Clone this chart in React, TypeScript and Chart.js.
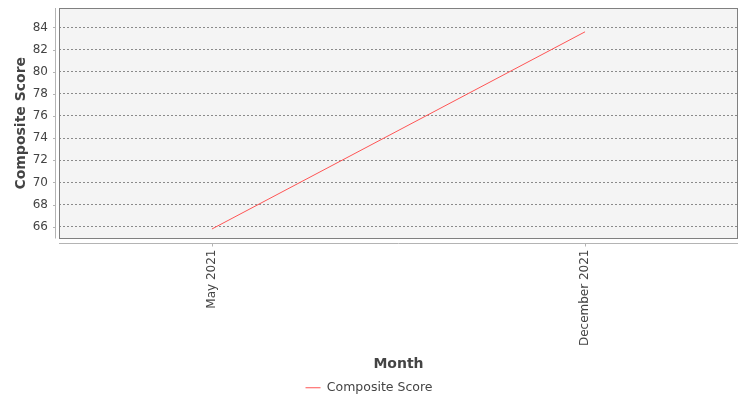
import React, { useEffect, useRef } from "react"
import { Chart, registerables } from "chart.js"

Chart.register(...registerables)

const months = ["May 2021", "December 2021"]
const compositeScores = [65.8, 83.6]
const yTickValues = [66, 68, 70, 72, 74, 76, 78, 80, 82, 84]

const FONT = "'DejaVu Sans', sans-serif"

// plot background, frame and the detached axis lines with their tick marks
const framePlugin = {
    id: "frame",
    beforeDraw(chart: Chart) {
        const { ctx, chartArea: a } = chart
        ctx.save()
        ctx.fillStyle = "#f4f4f4"
        ctx.fillRect(a.left, a.top, a.right - a.left, a.bottom - a.top)
        ctx.restore()
    },
    afterDraw(chart: Chart) {
        const { ctx, chartArea: a } = chart
        const xScale = chart.scales.x
        const yScale = chart.scales.y
        ctx.save()
        ctx.lineWidth = 1
        ctx.strokeStyle = "#808080"
        ctx.strokeRect(Math.round(a.left) + 0.5, Math.round(a.top) + 0.5, Math.round(a.right - a.left) - 1, Math.round(a.bottom - a.top) - 1)

        ctx.strokeStyle = "#b4b4b4"
        const ax = Math.round(a.left) - 3.5
        ctx.beginPath()
        ctx.moveTo(ax, a.top)
        ctx.lineTo(ax, a.bottom)
        yScale.ticks.forEach((t) => {
            const py = Math.round(yScale.getPixelForValue(t.value)) + 0.5
            ctx.moveTo(ax - 2.5, py)
            ctx.lineTo(ax, py)
        })
        const ay = Math.round(a.bottom) + 4.5
        ctx.moveTo(a.left, ay)
        ctx.lineTo(a.right, ay)
        xScale.ticks.forEach((t) => {
            const px = Math.round(xScale.getPixelForValue(t.value)) + 0.5
            ctx.moveTo(px, ay)
            ctx.lineTo(px, ay + 3)
        })
        ctx.stroke()
        ctx.restore()
    },
}

export default function App() {
    const chartRef = useRef<HTMLCanvasElement>(null)
    const chartInstance = useRef<Chart | null>(null)

    useEffect(() => {
        if (!chartRef.current) return
        if (chartInstance.current) chartInstance.current.destroy()
        const ctx = chartRef.current.getContext("2d")
        if (!ctx) return

        chartInstance.current = new Chart(ctx, {
            type: "line",
            data: {
                datasets: [
                    {
                        label: "Composite Score",
                        data: compositeScores.map((v, i) => ({ x: i, y: v })),
                        borderColor: "#ff5555",
                        backgroundColor: "#ff5555",
                        borderWidth: 1,
                        pointRadius: 0,
                        pointStyle: "line",
                        tension: 0,
                    },
                ],
            },
            options: {
                animation: false,
                responsive: true,
                maintainAspectRatio: false,
                layout: { padding: { top: 8, right: 12, bottom: -4, left: 0 } },
                scales: {
                    x: {
                        type: "linear",
                        min: -0.41,
                        max: 1.41,
                        afterBuildTicks: (scale: any) => {
                            scale.ticks = months.map((_, i) => ({ value: i }))
                        },
                        afterFit: (scale: any) => {
                            scale.height = 137
                            scale.paddingLeft = 0
                            scale.paddingRight = 0
                        },
                        grid: { display: false, drawTicks: false },
                        border: { display: false },
                        ticks: {
                            autoSkip: false,
                            minRotation: 90,
                            maxRotation: 90,
                            padding: 11,
                            color: "#444",
                            font: { family: FONT, size: 12 },
                            callback: (value: any) => months[value as number] ?? "",
                        },
                        title: {
                            display: true,
                            text: "Month",
                            color: "#444",
                            font: { family: FONT, size: 14, weight: "bold" },
                            padding: { top: 0, bottom: 3 },
                        },
                    },
                    y: {
                        min: 64.94,
                        max: 85.75,
                        afterBuildTicks: (scale: any) => {
                            scale.ticks = yTickValues.map((v) => ({ value: v }))
                        },
                        afterFit: (scale: any) => {
                            scale.width = 59
                            scale.paddingTop = 0
                            scale.paddingBottom = 0
                        },
                        grid: { color: "#8a8a8a", lineWidth: 1, drawTicks: false },
                        border: { display: false, dash: [2, 2] },
                        ticks: {
                            padding: 11,
                            color: "#444",
                            font: { family: FONT, size: 12 },
                        },
                        title: {
                            display: true,
                            text: "Composite Score",
                            color: "#444",
                            font: { family: FONT, size: 14, weight: "bold" },
                            padding: { top: 13, bottom: 0 },
                        },
                    },
                },
                plugins: {
                    legend: {
                        position: "bottom",
                        labels: {
                            usePointStyle: true,
                            pointStyle: "line",
                            pointStyleWidth: 15,
                            padding: 6,
                            color: "#444",
                            font: { family: FONT, size: 12.5 },
                        },
                    },
                    tooltip: { enabled: false },
                },
            },
            plugins: [framePlugin],
        })

        return () => {
            if (chartInstance.current) {
                chartInstance.current.destroy()
                chartInstance.current = null
            }
        }
    }, [])

    return (
        <div style={{ position: "absolute", left: 0, top: 0, width: 750, height: 400, background: "#ffffff" }}>
            <canvas ref={chartRef} />
        </div>
    )
}
